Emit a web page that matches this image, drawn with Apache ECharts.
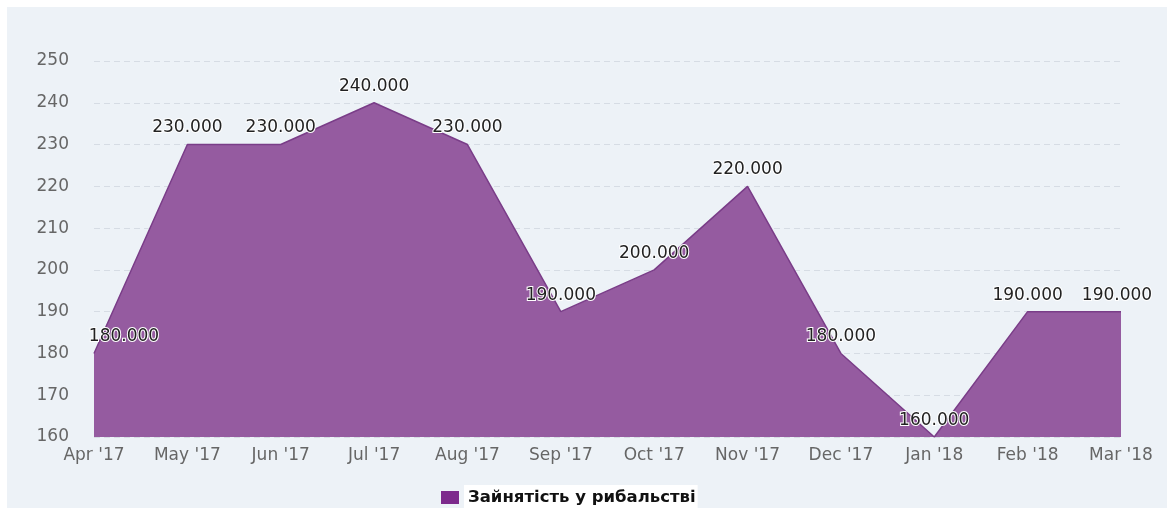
<!DOCTYPE html>
<html>
<head>
<meta charset="utf-8">
<script src="https://cdn.jsdelivr.net/npm/echarts@6/dist/echarts.min.js"></script>
<style>
  html, body { margin: 0; padding: 0; background: #ffffff; }
  #chart { width: 1167px; height: 508px; }
</style>
</head>
<body>
<div id="chart"></div>
<script>
// Monthly employment in fisheries, Apr 2017 – Mar 2018
const months = ["Apr '17", "May '17", "Jun '17", "Jul '17", "Aug '17", "Sep '17",
                "Oct '17", "Nov '17", "Dec '17", "Jan '18", "Feb '18", "Mar '18"];
const employment = [180, 230, 230, 240, 230, 190, 200, 220, 180, 160, 190, 190];
const seriesName = 'Зайнятість у рибальстві';
const yMin = 160, yMax = 250, yStep = 10;

const chart = echarts.init(document.getElementById('chart'), null, { renderer: 'canvas' });

const fontFamily = '"DejaVu Sans", Verdana, sans-serif';

chart.setOption({
  animation: false,
  backgroundColor: '#ffffff',
  graphic: [{
    type: 'rect',
    z: -10,
    shape: { x: 7, y: 7, width: 1160, height: 501 },
    style: { fill: '#edf2f7' },
    silent: true
  }],
  grid: { left: 94, right: 46, top: 61, bottom: 71, containLabel: false },
  legend: {
    top: 480,
    left: 436,
    itemWidth: 18,
    itemHeight: 13,
    itemGap: 10,
    icon: 'rect',
    data: [{ name: seriesName, itemStyle: { color: '#7d2a8c' } }],
    textStyle: {
      fontFamily: fontFamily,
      fontSize: 16.5,
      fontWeight: 'bold',
      color: '#111111',
      backgroundColor: '#ffffff',
      padding: [4, 2, 4, 4]
    }
  },
  xAxis: {
    type: 'category',
    data: months,
    boundaryGap: false,
    axisLine: { show: false },
    axisTick: { show: false },
    axisLabel: {
      color: '#666666',
      fontFamily: fontFamily,
      fontSize: 17,
      margin: 10,
      interval: 0
    },
    splitLine: { show: false }
  },
  yAxis: {
    type: 'value',
    min: yMin,
    max: yMax,
    interval: yStep,
    axisLine: { show: false },
    axisTick: { show: false },
    axisLabel: {
      color: '#666666',
      fontFamily: fontFamily,
      fontSize: 17,
      margin: 25
    },
    splitLine: {
      show: true,
      lineStyle: { color: '#d6dce4', type: [6, 4], width: 1 }
    }
  },
  series: [{
    name: seriesName,
    type: 'line',
    data: employment,
    symbol: 'circle',
    symbolSize: 0,
    showSymbol: true,
    lineStyle: { color: '#7a3d88', width: 1.5 },
    itemStyle: { color: '#7d2a8c' },
    areaStyle: { color: '#955ba0', opacity: 1 },
    // keep the first label inside the plot, nudge the last one left
    labelLayout: (params) => {
      if (params.dataIndex === 0) return { dx: 30, hideOverlap: false };
      if (params.dataIndex === employment.length - 1) return { dx: -4, hideOverlap: false };
      return { hideOverlap: false };
    },
    label: {
      show: true,
      position: 'top',
      distance: 8,
      formatter: p => p.value.toFixed(3),
      fontFamily: fontFamily,
      fontSize: 17,
      color: '#222222',
      textBorderColor: '#ffffff',
      textBorderWidth: 2
    }
  }]
});
</script>
</body>
</html>
